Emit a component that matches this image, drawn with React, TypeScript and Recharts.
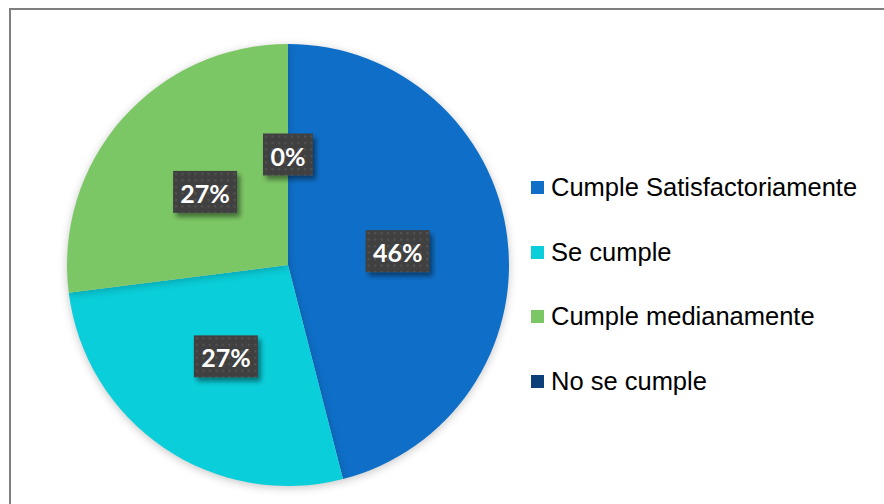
import React from "react";
import { PieChart, Pie, Cell, Legend } from "recharts";

const categories = [
  "Cumple Satisfactoriamente",
  "Se cumple",
  "Cumple medianamente",
  "No se cumple",
];
const percentages = [46, 27, 27, 0];
const colors = ["#0F6FC8", "#0ACFDA", "#7CC765", "#0D3F7B"];

const data = categories.map((name, i) => ({ name, value: percentages[i] }));

const renderLabel = (props: any) => {
  const { cx, cy, midAngle, outerRadius, percent, index } = props;
  const RAD = Math.PI / 180;
  const r = outerRadius * 0.5;
  const x = cx + r * Math.cos(-midAngle * RAD);
  const y = cy + r * Math.sin(-midAngle * RAD);
  const text = `${Math.round(percent * 100)}%`;
  const w = text.length > 2 ? 64 : 50;
  const h = 42;
  const pid = `dots-${index}`;
  const fid = `shadow-${index}`;
  return (
    <g>
      <defs>
        <pattern id={pid} width="6.5" height="6.5" patternUnits="userSpaceOnUse" x={x - w / 2} y={y - h / 2}>
          <rect width="6.5" height="6.5" fill="#404040" />
          <rect x="2" y="2" width="2" height="2" fill="#555555" />
        </pattern>
        <filter id={fid} x="-20%" y="-20%" width="150%" height="160%">
          <feDropShadow dx="3" dy="4" stdDeviation="2.5" floodColor="#000" floodOpacity="0.45" />
        </filter>
      </defs>
      <rect x={x - w / 2} y={y - h / 2} width={w} height={h} fill={`url(#${pid})`} filter={`url(#${fid})`} />
      <text
        x={x}
        y={y + 1}
        fill="#FFFFFF"
        textAnchor="middle"
        dominantBaseline="central"
        style={{ fontFamily: "Lato, 'Open Sans', sans-serif", fontWeight: 700, fontSize: 25 }}
      >
        {text}
      </text>
    </g>
  );
};

const renderLegend = () => (
  <div style={{ fontFamily: "'Liberation Sans', Arial, sans-serif", fontSize: 25.5, color: "#000" }}>
    {categories.map((c, i) => (
      <div key={c} style={{ display: "flex", alignItems: "center", height: 64.8 }}>
        <span style={{ width: 13, height: 13, background: colors[i], display: "inline-block", marginRight: 7, flexShrink: 0 }} />
        <span style={{ whiteSpace: "nowrap" }}>{c}</span>
      </div>
    ))}
  </div>
);

export default function App() {
  return (
    <div style={{ position: "relative", width: 884, height: 504, background: "#fff", overflow: "hidden" }}>
      <style>{`body{margin:0} .recharts-pie-sector{filter:drop-shadow(0 2px 4px rgba(0,0,0,0.22))}`}</style>
      <div
        style={{
          position: "absolute",
          left: 9,
          top: 8,
          width: 900,
          height: 520,
          borderTop: "2px solid #7F7F7F",
          borderLeft: "2px solid #7F7F7F",
        }}
      />
      <PieChart
        width={884}
        height={504}
        margin={{ top: 0, right: 0, bottom: 0, left: 0 }}
        style={{ position: "absolute", left: 0, top: 0 }}
      >
        <Pie
          data={data}
          dataKey="value"
          nameKey="name"
          cx={288}
          cy={265}
          outerRadius={221}
          startAngle={90}
          endAngle={-270}
          stroke="none"
          label={renderLabel}
          labelLine={false}
          isAnimationActive={false}
        >
          {data.map((d, i) => (
            <Cell key={d.name} fill={colors[i]} />
          ))}
        </Pie>
        <Legend
          content={renderLegend}
          layout="vertical"
          wrapperStyle={{ position: "absolute", left: 531, top: 155, width: 353 }}
        />
      </PieChart>
    </div>
  );
}
